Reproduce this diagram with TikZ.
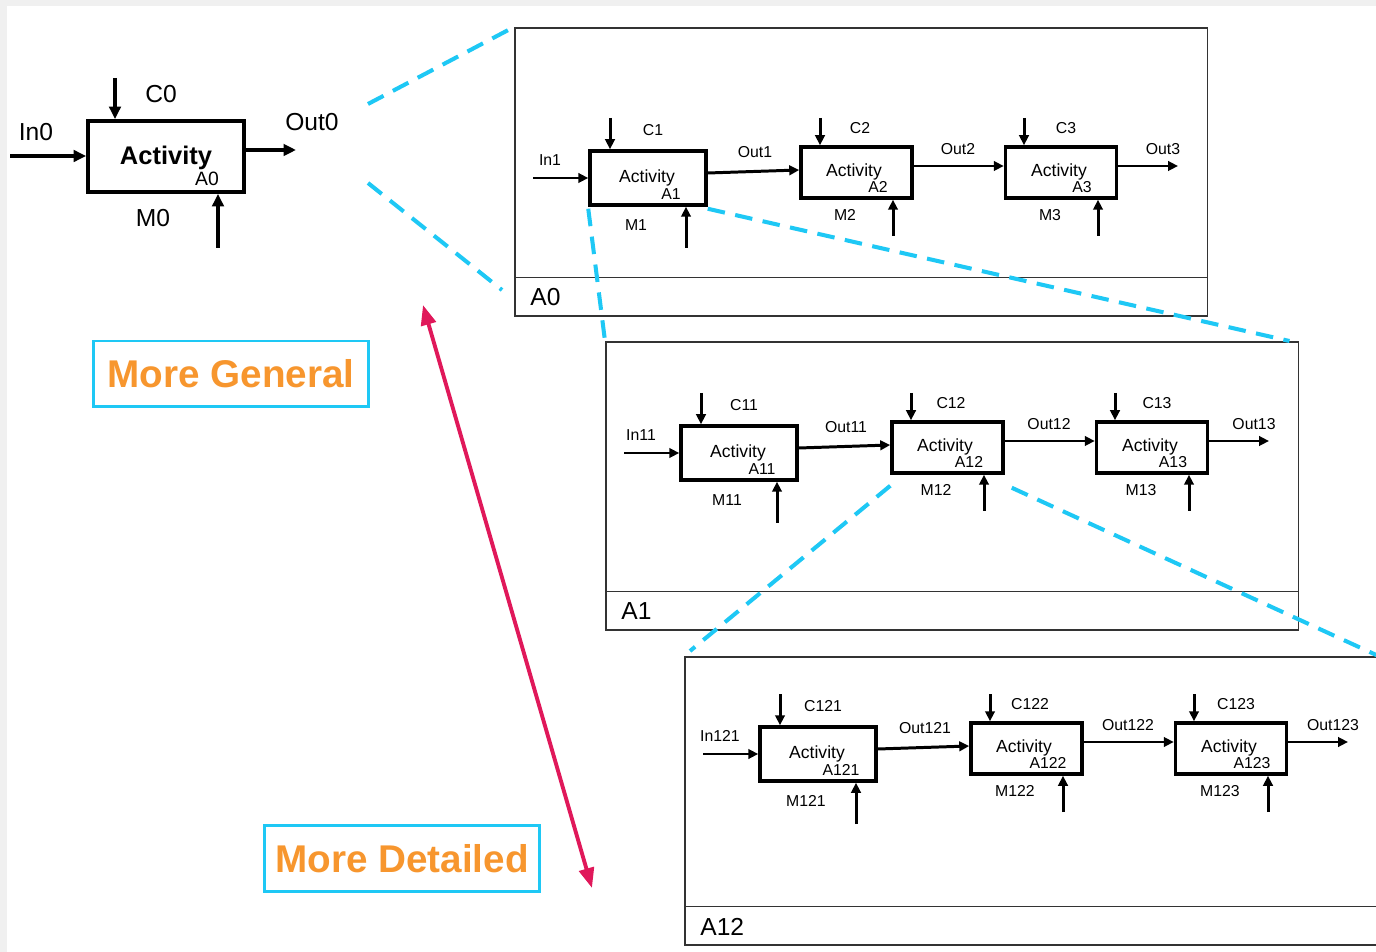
\documentclass[tikz,border=0pt]{standalone}
\usepackage{fontspec}
\setmainfont{Liberation Sans}
\usetikzlibrary{arrows.meta}
\definecolor{zoomcyan}{RGB}{30,200,245}
\definecolor{tagorange}{RGB}{247,150,46}
\definecolor{levelred}{RGB}{224,24,90}

\begin{document}
\begin{tikzpicture}[x=0.02cm,y=-0.02cm,>={Triangle[length=2mm,width=1.9mm]},
  flow/.style={->,line width=1.7pt},
  bigflow/.style={-{Triangle[length=2.5mm,width=2.3mm]},line width=1.9pt},
  act/.style={draw,line width=2pt,minimum width=2.22cm,minimum height=1.02cm,inner sep=0pt},
  lbl/.style={font=\fontsize{9}{10}\selectfont,inner sep=0pt},
  acttxt/.style={font=\fontsize{10}{11}\selectfont,inner sep=0pt},
  biglbl/.style={font=\fontsize{14}{16}\selectfont,inner sep=0pt},
  frame/.style={draw=black!80,line width=0.9pt,minimum width=13.86cm,minimum height=5.76cm,anchor=north west,inner sep=0pt},
  zoomline/.style={zoomcyan,line width=2.3pt,dash pattern=on 10pt off 6pt},
  tag/.style={draw=zoomcyan,line width=1.7pt,text=tagorange,font=\bfseries\fontsize{22}{26}\selectfont,minimum width=5.52cm,minimum height=1.32cm}]
\useasboundingbox (0,0) rectangle (1376,952);
\fill[gray!12] (0,0) rectangle (1376,952);
\fill[white] (7,6) rectangle (1376,952);

% context diagram
\node[act,line width=2.2pt,minimum width=3.12cm,minimum height=1.42cm] (box) at (166,156.5) {};
\node[font=\bfseries\fontsize{14.5}{16}\selectfont,inner sep=0pt] (boxtxt) at (166,158) {Activity};
\node[font=\fontsize{11}{12}\selectfont,inner sep=0pt] (boxid) at (207,179) {A0};
\coordinate (in0) at (10,156);
\coordinate (c0) at (115,78);
\coordinate (out0) at (296,150);
\coordinate (m0) at (218,248);
\draw[bigflow] (in0) -- (in0 -| box.west);
\draw[bigflow] (c0) -- (c0 |- box.north);
\draw[bigflow] (box.east |- out0) -- (out0);
\draw[bigflow] (m0) -- (m0 |- box.south);
\node[biglbl] (in0l) at (36,132) {In0};
\node[biglbl] (c0l) at (161,94) {C0};
\node[biglbl] (out0l) at (312,122) {Out0};
\node[biglbl] (m0l) at (153,218) {M0};

% diagram frames
\foreach \f/\fx/\fy in {0/514/27,1/605/341,12/684/656}{
  \node[frame] (fr\f) at (\fx,\fy) {};
  \draw[black!80,line width=0.9pt] ([yshift=0.78cm]fr\f.south west) -- ([yshift=0.78cm]fr\f.south east);
  \node[biglbl,anchor=west] (fr\f-l) at ([shift={(16,-19)}]fr\f.south west) {A\f};
}

% decompositions
\foreach \f/\p/\dx/\dy in {0/{}/0/0,1/1/91/275,12/12/170/576}{
\begin{scope}[shift={(\dx,\dy)}]
  \node[act,minimum width=2.32cm,minimum height=1.08cm] (box\f-1) at (648,178) {};
  \node[act] (box\f-2) at (856.5,172.5) {};
  \node[act] (box\f-3) at (1061,172.5) {};
  \node[acttxt] (txt\f-1) at (647,178) {Activity};
  \node[acttxt] (txt\f-2) at (854,172) {Activity};
  \node[acttxt] (txt\f-3) at (1059,172) {Activity};
  \node[lbl] (id\f-1) at (671,194) {A\p1};
  \node[lbl] (id\f-2) at (878,187) {A\p2};
  \node[lbl] (id\f-3) at (1082,187) {A\p3};
  \coordinate (in\f) at (533,178);
  \coordinate (c\f-1) at (610,118);
  \coordinate (c\f-2) at (820,118);
  \coordinate (c\f-3) at (1024,118);
  \coordinate (m\f-1) at (686,248);
  \coordinate (m\f-2) at (893,236);
  \coordinate (m\f-3) at (1098,236);
  \coordinate (out\f) at (1178,166);
  \draw[flow] (in\f) -- (in\f -| box\f-1.west);
  \draw[flow] ([yshift=0.1cm]box\f-1.east) -- ([yshift=0.05cm]box\f-2.west);
  \draw[flow] ([yshift=0.13cm]box\f-2.east) -- ([yshift=0.13cm]box\f-3.west);
  \draw[flow] (box\f-3.east |- out\f) -- (out\f);
  \draw[flow] (c\f-1) -- (c\f-1 |- box\f-1.north);
  \draw[flow] (c\f-2) -- (c\f-2 |- box\f-2.north);
  \draw[flow] (c\f-3) -- (c\f-3 |- box\f-3.north);
  \draw[flow] (m\f-1) -- (m\f-1 |- box\f-1.south);
  \draw[flow] (m\f-2) -- (m\f-2 |- box\f-2.south);
  \draw[flow] (m\f-3) -- (m\f-3 |- box\f-3.south);
  \node[lbl] (in\f-l) at (550,160) {In\p1};
  \node[lbl] (c\f-1l) at (653,130) {C\p1};
  \node[lbl] (c\f-2l) at (860,128) {C\p2};
  \node[lbl] (c\f-3l) at (1066,128) {C\p3};
  \node[lbl] (out\f-1l) at (755,152) {Out\p1};
  \node[lbl] (out\f-2l) at (958,149) {Out\p2};
  \node[lbl] (out\f-3l) at (1163,149) {Out\p3};
  \node[lbl] (m\f-1l) at (636,225) {M\p1};
  \node[lbl] (m\f-2l) at (845,215) {M\p2};
  \node[lbl] (m\f-3l) at (1050,215) {M\p3};
\end{scope}
}

% zoom lines
\coordinate (z0a) at (368,104);
\coordinate (z0b) at (368,183);
\coordinate (z0c) at (502,290);
\draw[zoomline] (z0a) -- (fr0.north west);
\draw[zoomline] (z0b) -- (z0c);
\draw[zoomline] ([yshift=-0.04cm]box0-1.south west) -- (fr1.north west);
\draw[zoomline] ([yshift=-0.04cm]box0-1.south east) -- ([xshift=-0.2cm]fr1.north east);
\draw[zoomline] ([shift={(0,11)}]box1-2.south west) -- ([shift={(6,-5)}]fr12.north west);
\draw[zoomline] ([shift={(7,13)}]box1-2.south east) -- (fr12.north east);

% level of detail
\coordinate (gen) at (423,305);
\coordinate (det) at (592,888);
\draw[levelred,line width=2.2pt,{Triangle[length=4mm,width=3mm]}-{Triangle[length=4mm,width=3mm]}] (gen) -- (det);
\node[tag] (general) at (231,374) {More General};
\node[tag] (detailed) at (402,858.5) {More Detailed};
\end{tikzpicture}
\end{document}
